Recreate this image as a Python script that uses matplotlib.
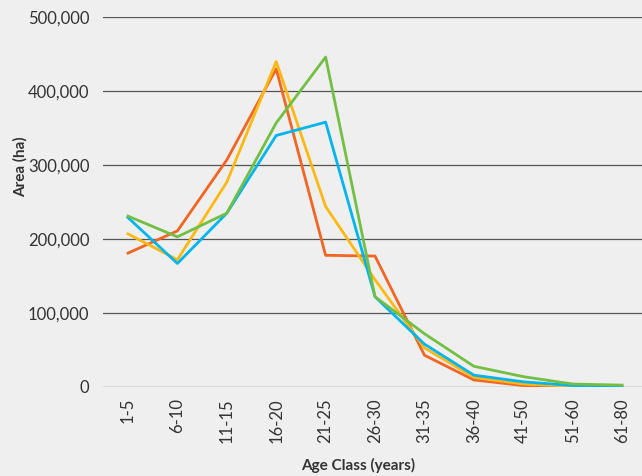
import matplotlib
matplotlib.use("Agg")
import matplotlib.pyplot as plt
from matplotlib.ticker import FuncFormatter

age_classes = ["1-5", "6-10", "11-15", "16-20", "21-25", "26-30", "31-35",
               "36-40", "41-50", "51-60", "61-80"]
orange = [181000, 211000, 307000, 430000, 178000, 177000, 43000, 9500, 2000, 500, 0]
yellow = [207000, 172000, 277000, 440000, 244000, 145000, 53000, 13000, 4000, 1000, 500]
blue = [229000, 167000, 235000, 340000, 358000, 122000, 58000, 16000, 7000, 2000, 500]
green = [231000, 203000, 235000, 357000, 446000, 122000, 72000, 28000, 14000, 4000, 2500]
yticks = [0, 100000, 200000, 300000, 400000, 500000]

plt.rcParams['font.family'] = ['Lato', 'DejaVu Sans']
bg = '#efefef'
fig = plt.figure(figsize=(6.42, 4.76), dpi=100, facecolor=bg)
ax = fig.add_axes([0.1609, 0.187, 0.8465, 0.777], facecolor=bg)

x = list(range(len(age_classes)))
ax.plot(x, orange, color='#f26522', lw=2.0, zorder=3)
ax.plot(x, yellow, color='#fdb913', lw=2.0, zorder=3)
ax.plot(x, blue, color='#00b5ef', lw=2.0, zorder=4)
ax.plot(x, green, color='#72bf44', lw=2.0, zorder=5)

ax.set_xlim(-0.5, len(age_classes) - 0.5)
ax.set_ylim(0, 500000)
ax.set_yticks(yticks)
ax.yaxis.set_major_formatter(FuncFormatter(lambda v, p: f"{int(v):,}"))
ax.set_xticks(x)
ax.set_xticklabels(age_classes, rotation=90)
ax.grid(axis='y', color='#555555', lw=0.9, zorder=1)
ax.set_axisbelow(True)
for s in ax.spines.values():
    s.set_visible(False)
ax.tick_params(axis='both', length=0, labelsize=12, colors='#333333', pad=8)
ax.tick_params(axis='y', pad=10)
ax.set_ylabel("Area (ha)", fontsize=11, fontweight='bold', color='#333333', va='center')
ax.set_xlabel("Age Class (years)", fontsize=11, fontweight='bold', color='#333333', va='center')
ax.xaxis.set_label_coords(0.469, -0.2135)
ax.yaxis.set_label_coords(-0.153, 0.595)

fig.savefig("out.png", dpi=100, facecolor=bg)
